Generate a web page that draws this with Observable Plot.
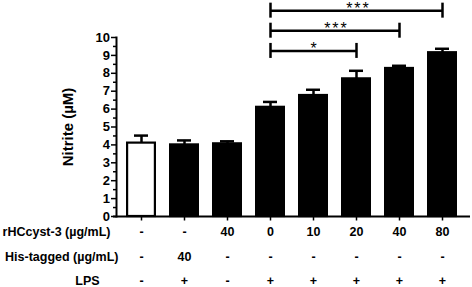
<!DOCTYPE html>
<html>
<head>
<meta charset="utf-8">
<script src="https://cdn.jsdelivr.net/npm/d3@7"></script>
<script src="https://cdn.jsdelivr.net/npm/@observablehq/plot@0.6"></script>
<style>
  html, body { margin: 0; padding: 0; background: #fff; }
  #chart svg { display: block; }
</style>
</head>
<body>
<div id="chart"></div>
<script>
// ---- data ----
const groups = ["G1", "G2", "G3", "G4", "G5", "G6", "G7", "G8"];
const nitrite = [4.1, 4.0, 4.06, 6.1, 6.76, 7.69, 8.27, 9.15];
const sem = [0.42, 0.25, 0.14, 0.3, 0.32, 0.45, 0.15, 0.22];
const barFill = ["white", "black", "black", "black", "black", "black", "black", "black"];
const rowLabels = ["rHCcyst-3 (µg/mL)", "His-tagged (µg/mL)", "LPS"];
const rHCcyst = ["-", "-", "40", "0", "10", "20", "40", "80"];
const hisTagged = ["-", "40", "-", "-", "-", "-", "-", "-"];
const lps = ["-", "+", "-", "+", "+", "+", "+", "+"];
const yTicks = [0, 1, 2, 3, 4, 5, 6, 7, 8, 9, 10];
const yMinorTicks = [0.5, 1.5, 2.5, 3.5, 4.5, 5.5, 6.5, 7.5, 8.5, 9.5];
const yTitle = "Nitrite (µM)";
const compFrom = [3, 3, 3];
const compTo = [7, 6, 5];
const compLevel = [11.5, 10.38, 9.25];
const compLabel = ["***", "***", "*"];

const data = groups.map((g, i) => ({group: g, value: nitrite[i], err: sem[i], fill: barFill[i]}));
const comps = compFrom.map((f, i) => ({from: groups[f], to: groups[compTo[i]], level: compLevel[i], label: compLabel[i]}));

// ---- layout ----
const W = 472, H = 287;
const mL = 116, mR = 4, mT = 37, mB = 71;
const xOpts = {type: "band", domain: groups, paddingInner: 0.295, paddingOuter: 0.148, range: [mL, W - mR]};
const xs = Plot.scale({x: xOpts});
const center = g => xs.apply(g) + xs.bandwidth / 2;
const blank = () => "";

const rowAxis = (vals, pad) => Plot.axisX({
  tickSize: 0, tickPadding: pad, label: null,
  tickFormat: d => vals[groups.indexOf(d)], fontSize: 12.5
});

const marks = [
  // bars
  Plot.barY(data, {x: "group", y: "value", fill: "fill", stroke: "black", strokeWidth: 2.2, insetLeft: 1.1, insetRight: 1.1}),
  // error bars (upper only)
  Plot.ruleX(data, {x: "group", y1: "value", y2: d => d.value + d.err, strokeWidth: 2.5}),
  Plot.tickY(data, {x: "group", y: d => d.value + d.err, strokeWidth: 2.5, insetLeft: 8, insetRight: 8}),
  // axes lines
  Plot.ruleY([0], {strokeWidth: 2, insetLeft: -3, insetRight: -2}),
  Plot.frame({anchor: "left", strokeWidth: 2}),
  // y axis
  Plot.axisY(yMinorTicks, {tickSize: 3, tickFormat: blank, label: null, strokeWidth: 1.5}),
  Plot.axisY(yTicks, {tickSize: 5, tickPadding: 1.5, label: null, fontSize: 13, strokeWidth: 1.5}),
  Plot.text([yTitle], {frameAnchor: "left", textAnchor: "middle", lineAnchor: "middle", rotate: -90, dx: -48, fontSize: 15}),
  // x ticks
  Plot.axisX({tickSize: 4.5, tickFormat: blank, label: null, strokeWidth: 1.5}),
  // condition table
  rowAxis(rHCcyst, 11),
  rowAxis(hisTagged, 36),
  rowAxis(lps, 59.5),
  Plot.text([rowLabels[0]], {frameAnchor: "bottom-left", textAnchor: "end", lineAnchor: "top", dx: -6, dy: 11, fontSize: 12.5}),
  Plot.text([rowLabels[1]], {frameAnchor: "bottom-left", textAnchor: "end", lineAnchor: "top", dx: 2, dy: 36, fontSize: 12.5}),
  Plot.text([rowLabels[2]], {frameAnchor: "bottom-left", textAnchor: "middle", lineAnchor: "top", dx: -29, dy: 59.5, fontSize: 12.5}),
  // significance brackets
  Plot.link(comps, {x1: "from", x2: "to", y1: "level", y2: "level", strokeWidth: 2.5}),
  Plot.ruleX(comps, {x: "from", y1: "level", y2: "level", insetTop: -7.5, insetBottom: -7.5, strokeWidth: 2.5}),
  Plot.ruleX(comps, {x: "to", y1: "level", y2: "level", insetTop: -7.5, insetBottom: -7.5, strokeWidth: 2.5}),
  ...comps.map(c => Plot.text([c], {
    x: "from", y: "level", text: "label", lineAnchor: "bottom", dy: 3,
    dx: (center(c.to) - center(c.from)) / 2, fontSize: 16, fontWeight: "normal"
  }))
];

const chart = Plot.plot({
  width: W, height: H,
  marginLeft: mL, marginRight: mR, marginTop: mT, marginBottom: mB,
  style: {fontFamily: "'Liberation Sans', Arial, sans-serif", fontWeight: "bold", fontSize: "12.5px", color: "black", background: "white"},
  x: {type: "band", domain: groups, paddingInner: 0.295, paddingOuter: 0.148, axis: null},
  y: {domain: [0, 10], axis: null},
  fill: {type: "identity"},
  marks
});

d3.select(chart).selectAll("text").filter(function () { return /\*/.test(this.textContent); })
  .style("letter-spacing", "2px");

document.getElementById("chart").appendChild(chart);
</script>
</body>
</html>
